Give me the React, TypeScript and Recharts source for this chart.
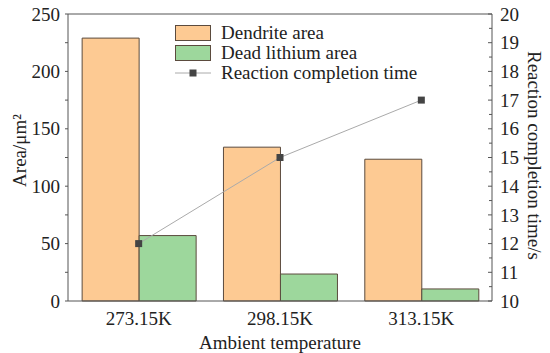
import { useEffect, useState } from 'react';
import {
  ComposedChart,
  Bar,
  Line,
  XAxis,
  YAxis,
  ReferenceLine,
} from 'recharts';

const temperatures = ['273.15K', '298.15K', '313.15K'];
const dendriteArea = [229, 134, 123.5];
const deadLithiumArea = [57, 23.5, 10.5];
const completionTime = [12, 15, 17];

const leftTicks = [0, 25, 50, 75, 100, 125, 150, 175, 200, 225, 250];
const rightTicks = [10, 10.5, 11, 11.5, 12, 12.5, 13, 13.5, 14, 14.5, 15, 15.5, 16, 16.5, 17, 17.5, 18, 18.5, 19, 19.5, 20];

const data = temperatures.map((t, i) => ({
  temp: t,
  dendrite: dendriteArea[i],
  dead: deadLithiumArea[i],
  time: completionTime[i],
}));

const FONT = 'Liberation Serif';
const FS = 19;
const AXIS = '#555';
const ORANGE = '#fdca93';
const GREEN = '#9dd79c';
const EDGE = '#5b4b3e';
const txt = { fontFamily: FONT };

const LeftTick = (props: any) => {
  const { x, y, payload } = props;
  if (payload.value % 50 !== 0) return <g />;
  return (
    <text x={x} y={y} dy="0.35em" textAnchor="end" fontSize={FS} fontFamily={FONT} style={txt} fill="#222">
      {payload.value}
    </text>
  );
};

const RightTick = (props: any) => {
  const { x, y, payload } = props;
  const major = payload.value % 1 === 0;
  const ax = x - 8;
  return (
    <g>
      <line x1={ax - (major ? 4 : 3)} x2={ax} y1={y} y2={y} stroke={AXIS} />
      {major && (
        <text x={x} y={y} dy="0.35em" textAnchor="start" fontSize={FS} fontFamily={FONT} style={txt} fill="#222">
          {payload.value}
        </text>
      )}
    </g>
  );
};

const BottomTick = (props: any) => {
  const { x, y, payload } = props;
  return (
    <text x={x} y={y} dy="0.35em" textAnchor="middle" fontSize={FS} fontFamily={FONT} style={txt} fill="#222">
      {payload.value}
    </text>
  );
};

const SquareDot = (props: any) => {
  const { cx, cy } = props;
  return <rect x={cx - 3.5} y={cy - 3.5} width={7} height={7} fill="#444" />;
};

const LegendBox = () => {
  const row = { display: 'flex', alignItems: 'center', height: 20 } as const;
  const text = { marginLeft: 10, fontSize: FS, fontFamily: FONT, color: '#222', whiteSpace: 'nowrap', lineHeight: '20px' } as const;
  return (
    <div style={{ position: 'absolute', left: 175, top: 23 }}>
      <div style={row}>
        <div style={{ width: 34, height: 14, background: ORANGE, border: `1px solid ${EDGE}` }} />
        <span style={text}>Dendrite area</span>
      </div>
      <div style={row}>
        <div style={{ width: 34, height: 14, background: GREEN, border: `1px solid ${EDGE}` }} />
        <span style={text}>Dead lithium area</span>
      </div>
      <div style={row}>
        <svg width={36} height={10}>
          <line x1={0} x2={36} y1={5} y2={5} stroke="#aaa" />
          <rect x={14.5} y={1.5} width={7} height={7} fill="#444" />
        </svg>
        <span style={text}>Reaction completion time</span>
      </div>
    </div>
  );
};

const LeftLabel = (props: any) => {
  const { viewBox } = props;
  const cy = viewBox.y + viewBox.height / 2 - 7;
  return (
    <text x={19} y={cy} transform={`rotate(-90 19 ${cy})`} dy="0.35em" textAnchor="middle" fontSize={FS} fontFamily={FONT} style={txt} fill="#222">
      Area/μm²
    </text>
  );
};

const RightLabel = (props: any) => {
  const { viewBox } = props;
  const cy = viewBox.y + viewBox.height / 2 - 2;
  return (
    <text x={535} y={cy} transform={`rotate(90 535 ${cy})`} dy="0.35em" textAnchor="middle" fontSize={FS} fontFamily={FONT} style={txt} fill="#222">
      Reaction completion time/s
    </text>
  );
};

const BottomLabel = (props: any) => {
  const { viewBox } = props;
  const cx = viewBox.x + viewBox.width / 2;
  return (
    <text x={cx} y={342} dy="0.35em" textAnchor="middle" fontSize={FS} fontFamily={FONT} style={txt} fill="#222">
      Ambient temperature
    </text>
  );
};

export default function App() {
  const [ver, setVer] = useState(0);
  useEffect(() => {
    if (document.fonts && document.fonts.load) {
      document.fonts.load(`${FS}px "${FONT}"`).then(() => setVer(1)).catch(() => {});
    }
  }, []);
  return (
    <div key={ver} style={{ position: 'absolute', left: 0, top: 0, width: 550, height: 353, background: '#fff', fontFamily: FONT }}>
      <ComposedChart
        width={550}
        height={353}
        data={data}
        margin={{ top: 14, right: 0, bottom: 0, left: 0 }}
        barCategoryGap="10%"
        barGap={0}
      >
        <XAxis
          dataKey="temp"
          height={52}
          stroke={AXIS}
          tickLine={false}
          tickSize={0}
          tickMargin={17}
          tick={<BottomTick />}
          label={<BottomLabel />}
        />
        <YAxis
          yAxisId="left"
          width={68}
          domain={[0, 250]}
          ticks={leftTicks}
          interval={0}
          stroke={AXIS}
          tickSize={3}
          tickMargin={5}
          tick={<LeftTick />}
          label={<LeftLabel />}
        />
        <YAxis
          yAxisId="right"
          orientation="right"
          width={58}
          domain={[10, 20]}
          ticks={rightTicks}
          interval={0}
          stroke={AXIS}
          tickLine={false}
          tickSize={0}
          tickMargin={8}
          tick={<RightTick />}
          label={<RightLabel />}
        />
        <ReferenceLine yAxisId="left" y={250} stroke={AXIS} />
        <Bar yAxisId="left" dataKey="dendrite" name="Dendrite area" fill={ORANGE} stroke={EDGE} strokeWidth={1} isAnimationActive={false} />
        <Bar yAxisId="left" dataKey="dead" name="Dead lithium area" fill={GREEN} stroke={EDGE} strokeWidth={1} isAnimationActive={false} />
        <Line
          yAxisId="right"
          dataKey="time"
          name="Reaction completion time"
          stroke="#aaa"
          strokeWidth={1}
          dot={<SquareDot />}
          activeDot={false}
          isAnimationActive={false}
        />
      </ComposedChart>
      <LegendBox />
    </div>
  );
}
